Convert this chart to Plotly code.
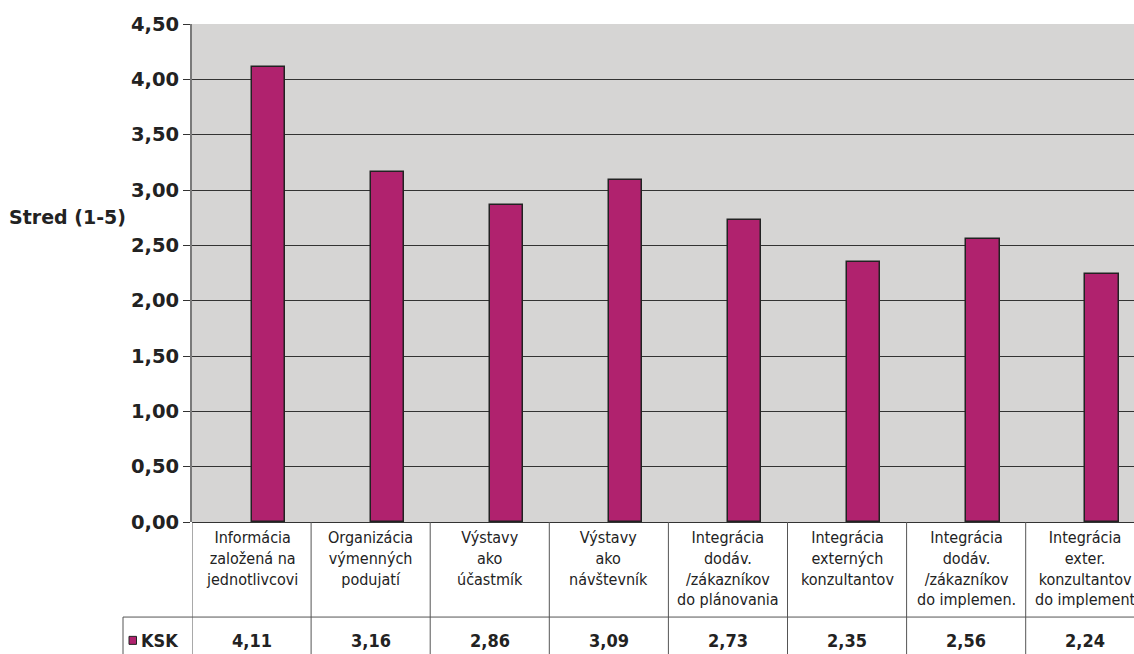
import plotly.graph_objects as go

categories = [
    "Informácia založená na jednotlivcovi",
    "Organizácia výmenných podujatí",
    "Výstavy ako účastmík",
    "Výstavy ako návštevník",
    "Integrácia dodáv. /zákazníkov do plánovania",
    "Integrácia externých konzultantov",
    "Integrácia dodáv. /zákazníkov do implemen.",
    "Integrácia exter. konzultantov do implement",
]
category_lines = [
    ["Informácia", "založená na", "jednotlivcovi"],
    ["Organizácia", "výmenných", "podujatí"],
    ["Výstavy", "ako", "účastmík"],
    ["Výstavy", "ako", "návštevník"],
    ["Integrácia", "dodáv.", "/zákazníkov", "do plánovania"],
    ["Integrácia", "externých", "konzultantov"],
    ["Integrácia", "dodáv.", "/zákazníkov", "do implemen."],
    ["Integrácia", "exter.", "konzultantov", "do implement"],
]
series_name = "KSK"
values = [4.11, 3.16, 2.86, 3.09, 2.73, 2.35, 2.56, 2.24]
y_ticks = [0, 0.5, 1.0, 1.5, 2.0, 2.5, 3.0, 3.5, 4.0, 4.5]
y_title = "Stred (1-5)"

W, Hpx = 1134, 654
L, T = 192, 24
BOTTOM = 521.7
PH = BOTTOM - T
PW = W - L
COLW = 119.1

def py(p):
    return (BOTTOM - p) / PH

def px(p):
    return (p - L) / PW

FONT = "DejaVu Sans Condensed"
FONT_WIDE = "DejaVu Sans"
BAR = "#B0226E"
LINE = "#555555"

fig = go.Figure()
fig.add_trace(go.Bar(
    x=categories, y=values, name=series_name,
    marker=dict(color=BAR, line=dict(color="#222222", width=1.5)),
    width=0.28, offset=0.0, showlegend=False, hoverinfo="x+y",
))

n = len(categories)
shapes = []
for i in range(n + 1):
    shapes.append(dict(type="line", xref="x", yref="paper",
                       x0=i - 0.5, x1=i - 0.5, y0=0, y1=py(660),
                       line=dict(color=LINE, width=1)))
shapes.append(dict(type="line", xref="paper", yref="paper",
                   x0=px(123), x1=1.0, y0=py(616.7), y1=py(616.7),
                   line=dict(color=LINE, width=1)))
shapes.append(dict(type="line", xref="paper", yref="paper",
                   x0=px(123), x1=px(123), y0=py(616.7), y1=py(660),
                   line=dict(color=LINE, width=1)))
shapes.append(dict(type="rect", xref="paper", yref="paper",
                   x0=px(129), x1=px(136.5), y0=py(644), y1=py(636),
                   fillcolor=BAR, line=dict(color="#222222", width=1)))

annotations = []
for i, lines in enumerate(category_lines):
    annotations.append(dict(
        x=i, y=py(526), xref="x", yref="paper", xanchor="center", yanchor="top",
        text="<br>".join(lines), showarrow=False, align="center",
        font=dict(family=FONT, size=16, color="#222222"),
    ))
    annotations.append(dict(
        x=i, y=py(640), xref="x", yref="paper", xanchor="center", yanchor="middle",
        text=f"{values[i]:.2f}".replace(".", ","), showarrow=False,
        font=dict(family=FONT, size=18, color="#222222", weight="bold"),
    ))
annotations.append(dict(
    x=px(139), y=py(640), xref="paper", yref="paper", xanchor="left", yanchor="middle",
    text=series_name, showarrow=False,
    font=dict(family=FONT, size=18, color="#222222", weight="bold"),
))
annotations.append(dict(
    x=px(7), y=py(216.7), xref="paper", yref="paper", xanchor="left", yanchor="middle",
    text=y_title, showarrow=False,
    font=dict(family=FONT_WIDE, size=19, color="#222222", weight="bold"),
))

fig.update_layout(
    width=W, height=Hpx,
    margin=dict(l=L, r=0, t=T, b=Hpx - BOTTOM, pad=0),
    paper_bgcolor="white", plot_bgcolor="#D6D5D4",
    separators=", ",
    bargap=0,
    shapes=shapes, annotations=annotations,
    xaxis=dict(type="category", range=[-0.5, -0.5 + PW / COLW],
               showticklabels=False, showgrid=False, zeroline=False,
               showline=False, ticks="", fixedrange=True),
    yaxis=dict(range=[0, 4.5], tickvals=y_ticks, tickformat=".2f",
               showgrid=True, gridcolor="#333333", gridwidth=1,
               zeroline=True, zerolinecolor="#333333", zerolinewidth=1,
               showline=True, linecolor="#7a7a7a", linewidth=2,
               ticks="outside", ticklen=7, tickcolor="#333333", tickwidth=1,
               tickfont=dict(family=FONT_WIDE, size=19.5, color="#222222", weight="bold"),
               fixedrange=True),
    font=dict(family=FONT, color="#222222"),
)

fig.write_html("out.html")
